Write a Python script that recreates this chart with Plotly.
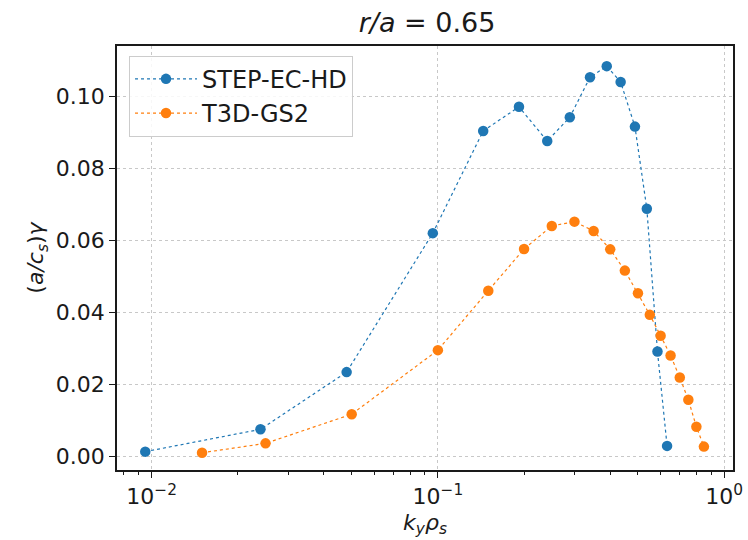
import plotly.graph_objects as go

step_x = [0.0095, 0.024, 0.048, 0.096, 0.144, 0.192, 0.241, 0.289, 0.340, 0.389, 0.435, 0.488, 0.537, 0.585, 0.632]
step_y = [0.0014, 0.0076, 0.0235, 0.0621, 0.0905, 0.0972, 0.0877, 0.0943, 0.1054, 0.1085, 0.1041, 0.0917, 0.0689, 0.0292, 0.0030]

t3d_x = [0.015, 0.025, 0.05, 0.1, 0.15, 0.2, 0.25, 0.3, 0.35, 0.4, 0.45, 0.5, 0.55, 0.6, 0.65, 0.7, 0.75, 0.8, 0.85]
t3d_y = [0.0011, 0.0037, 0.0118, 0.0296, 0.0461, 0.0577, 0.0641, 0.0653, 0.0627, 0.0576, 0.0517, 0.0454, 0.0394, 0.0336, 0.0281, 0.0220, 0.0158, 0.0083, 0.0028]

x_tickvals = [0.01, 0.1, 1]
x_ticktext = ["10<sup>\u22122</sup>", "10<sup>\u22121</sup>", "10<sup>0</sup>"]
x_minor = [0.008, 0.009] + [k * 0.01 for k in range(2, 10)] + [k * 0.1 for k in range(2, 10)]
y_tickvals = [0.0, 0.02, 0.04, 0.06, 0.08, 0.10]
y_ticktext = ["0.00", "0.02", "0.04", "0.06", "0.08", "0.10"]

BLUE = "#1f77b4"
ORANGE = "#ff7f0e"
TXT = "#1a1a1a"

fig = go.Figure()
fig.add_trace(go.Scatter(x=step_x, y=step_y, mode="lines+markers", name="STEP-EC-HD",
                         legendgroup="a",
                         line=dict(color=BLUE, width=1.2, dash="dot"),
                         marker=dict(color=BLUE, size=10.5, symbol="circle")))
fig.add_trace(go.Scatter(x=t3d_x, y=t3d_y, mode="lines+markers", name="T3D-GS2",
                         legendgroup="b",
                         line=dict(color=ORANGE, width=1.2, dash="dot"),
                         marker=dict(color=ORANGE, size=10.5, symbol="circle")))

fig.update_layout(
    width=748, height=540,
    margin=dict(l=117, r=15, t=46, b=70, autoexpand=False),
    paper_bgcolor="white", plot_bgcolor="white",
    font=dict(family="DejaVu Sans", size=22, color=TXT),
    title=dict(text="<i>r/a</i> = 0.65", x=0.571, xanchor="center", y=0.958, yanchor="middle",
               font=dict(size=27, color=TXT)),
    showlegend=True,
    legend=dict(x=0.0195, y=0.977, xanchor="left", yanchor="top",
                bgcolor="rgba(255,255,255,0.85)", bordercolor="#cccccc", borderwidth=1,
                font=dict(size=24, color=TXT), tracegroupgap=0, itemwidth=62),
    xaxis=dict(type="log", range=[-2.121, 0.031], automargin=False,
               tickvals=x_tickvals, ticktext=x_ticktext,
               ticks="outside", ticklen=6, tickcolor=TXT, tickwidth=1.2,
               showline=True, linecolor=TXT, linewidth=1.5, mirror=True,
               showgrid=True, gridcolor="#c8c8c8", griddash="dot", gridwidth=1,
               zeroline=False,
               minor=dict(tickvals=x_minor, ticks="outside", ticklen=3.5, tickcolor=TXT, showgrid=False),
               title=dict(text="<i>k<sub>y</sub>\u03c1<sub>s</sub></i>", font=dict(size=22), standoff=6),
               tickfont=dict(size=22)),
    yaxis=dict(range=[-0.0037, 0.1141], automargin=False,
               tickvals=y_tickvals, ticktext=y_ticktext,
               ticks="outside", ticklen=6, tickcolor=TXT, tickwidth=1.2,
               showline=True, linecolor=TXT, linewidth=1.5, mirror=True,
               showgrid=True, gridcolor="#c8c8c8", griddash="dot", gridwidth=1,
               zeroline=False,
               title=dict(text="(<i>a/c<sub>s</sub></i>)<i>\u03b3</i>", font=dict(size=22), standoff=6),
               tickfont=dict(size=22)),
)

fig.write_html("out.html")
